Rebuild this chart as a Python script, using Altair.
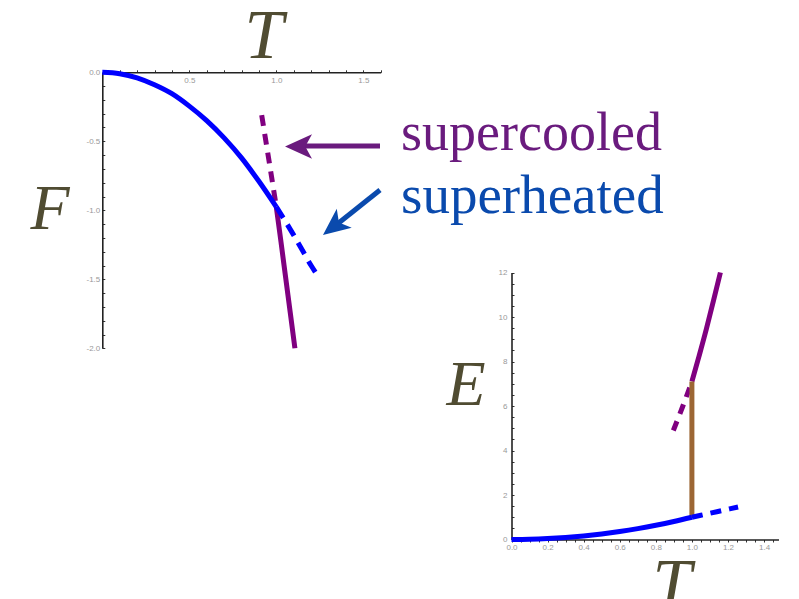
import altair as alt
import pandas as pd

# ---------------- F(T) panel data ----------------
F_blue_T = [0.0, 0.1, 0.2, 0.3, 0.4, 0.5, 0.6, 0.7, 0.8, 0.9, 1.0]
F_blue_F = [0.0, -0.01, -0.04, -0.09, -0.155, -0.245, -0.35, -0.475, -0.62, -0.79, -0.975]
F_blue_dash_T = [1.0, 1.05, 1.1, 1.15, 1.2, 1.228]
F_blue_dash_F = [-0.975, -1.075, -1.18, -1.29, -1.40, -1.455]
F_purple_T = [1.0, 1.027, 1.054, 1.08, 1.107]
F_purple_F = [-0.975, -1.23, -1.49, -1.74, -2.0]
F_purple_dash_T = [0.916, 0.958, 1.0]
F_purple_dash_F = [-0.31, -0.64, -0.975]

# ---------------- E(T) panel data ----------------
E_blue_T = [0.0, 0.1, 0.2, 0.3, 0.4, 0.5, 0.6, 0.7, 0.8, 0.9, 1.0]
E_blue_E = [0.0, 0.01, 0.04, 0.09, 0.16, 0.25, 0.36, 0.49, 0.64, 0.81, 1.0]
E_blue_dash_T = [1.0, 1.1, 1.2, 1.256]
E_blue_dash_E = [1.0, 1.18, 1.36, 1.46]
E_purple_T = [1.0, 1.04, 1.08, 1.12, 1.158]
E_purple_E = [7.1, 8.25, 9.45, 10.75, 12.0]
E_purple_dash_T = [0.897, 0.95, 1.0]
E_purple_dash_E = [4.9, 6.0, 7.1]
E_jump_T = [1.0, 1.0]
E_jump_E = [1.0, 7.1]

# tick values
FX_TICKS = [round(0.1 * i, 2) for i in range(1, 17)]
FY_TICKS = [round(-0.1 * i, 2) for i in range(0, 21)]
EX_TICKS = [round(0.05 * i, 3) for i in range(0, 30)]
EY_TICKS = [round(0.5 * i, 2) for i in range(0, 25)]

BLUE = "#0000ff"
PURPLE = "#800080"
BROWN = "#9c6634"
LABEL = "#504c32"
TXT_PURPLE = "#6a1b7e"
TXT_BLUE = "#0a4aad"

W, H = 799, 599

common_axis = dict(grid=False, title=None, domainColor="#222", domainWidth=1.6,
                   tickColor="#333", tickWidth=1, tickSize=2.5, labelColor="#999",
                   labelFontSize=8, labelFont="Liberation Sans", labelFlush=False,
                   labelOverlap=False)

axFx = alt.Axis(orient="top", offset=-72.3, values=FX_TICKS,
                labelExpr="abs(datum.value*2 - round(datum.value*2)) < 1e-6 ? format(datum.value, '.1f') : ''",
                labelBaseline="top", labelPadding=-7, **common_axis)
axFy = alt.Axis(orient="right", offset=102.3 - W, values=FY_TICKS,
                labelExpr="abs(datum.value*2 - round(datum.value*2)) < 1e-6 ? (datum.value < -1e-6 ? '-' : '') + format(abs(datum.value), '.1f') : ''",
                labelAlign="right", labelBaseline="middle", labelPadding=-5, **common_axis)
axEx = alt.Axis(orient="bottom", offset=-(H - 539.5), values=EX_TICKS,
                labelExpr="abs(datum.value*5 - round(datum.value*5)) < 1e-6 ? format(datum.value, '.1f') : ''",
                labelBaseline="top", labelPadding=1.5, **common_axis)
axEy = alt.Axis(orient="right", offset=511.5 - W, values=EY_TICKS,
                labelExpr="abs(datum.value/2 - round(datum.value/2)) < 1e-6 ? format(datum.value, 'd') : ''",
                labelAlign="right", labelBaseline="middle", labelPadding=-7, **common_axis)

fx_scale = alt.Scale(domain=[0, 1.6], range=[102.3, 102.3 + 1.6 * 174])
fy_scale = alt.Scale(domain=[-2, 0], range=[348.3, 72.3])
ex_scale = alt.Scale(domain=[0, 1.48], range=[511.5, 511.5 + 1.48 * 180.4])
ey_scale = alt.Scale(domain=[0, 12], range=[539.5, 272.5])


def series(ts, vs):
    return pd.DataFrame({"T": ts, "V": vs, "i": list(range(len(ts)))})


def mk(ts, vs, color, dash, width, smooth, xs, ys, ax, ay):
    kw = dict(color=color, strokeWidth=width, strokeCap="butt", clip=False)
    if dash:
        kw["strokeDash"] = dash
    if smooth:
        kw["interpolate"] = "monotone"
    return alt.Chart(series(ts, vs)).mark_line(**kw).encode(
        x=alt.X("T:Q", scale=xs, axis=ax),
        y=alt.Y("V:Q", scale=ys, axis=ay),
        order=alt.Order("i:Q"),
    )


def fline(ts, vs, color, dash=None, width=5, smooth=True):
    return mk(ts, vs, color, dash, width, smooth, fx_scale, fy_scale, axFx, axFy)


def eline(ts, vs, color, dash=None, width=5, smooth=True):
    return mk(ts, vs, color, dash, width, smooth, ex_scale, ey_scale, axEx, axEy)


F_panel = alt.layer(
    fline(F_purple_dash_T, F_purple_dash_F, PURPLE, [11, 8]),
    fline(F_purple_T, F_purple_F, PURPLE),
    fline(F_blue_T, F_blue_F, BLUE),
    fline(F_blue_dash_T, F_blue_dash_F, BLUE, [13, 8]),
)

E_panel = alt.layer(
    eline(E_purple_dash_T, E_purple_dash_E, PURPLE, [10, 8]),
    eline(E_purple_T, E_purple_E, PURPLE),
    eline(E_jump_T, E_jump_E, BROWN, smooth=False),
    eline(E_blue_T, E_blue_E, BLUE),
    eline(E_blue_dash_T, E_blue_dash_E, BLUE, [11, 8]),
)

one = pd.DataFrame({"a": [0]})


def label(txt, x, y, size, color, italic=True, align="center"):
    kw = dict(text=txt, font="Liberation Serif", fontSize=size, color=color,
              align=align, baseline="alphabetic")
    if italic:
        kw["fontStyle"] = "italic"
    return alt.Chart(one).mark_text(**kw).encode(x=alt.value(x), y=alt.value(y))


def shaft(x1, y1, x2, y2, color):
    return alt.Chart(one).mark_rule(color=color, strokeWidth=5, strokeCap="butt").encode(
        x=alt.value(x1), y=alt.value(y1), x2=alt.value(x2), y2=alt.value(y2))


HEAD = "M -1 0 L 1 -0.9 L 0.5 0 L 1 0.9 Z"


def head(x, y, angle, color):
    return alt.Chart(one).mark_point(shape=HEAD, filled=True, fill=color, stroke=None,
                                     size=27 * 27, opacity=1, angle=angle).encode(
        x=alt.value(x), y=alt.value(y))


annotations = [
    label("T", 264, 58, 70, LABEL),
    label("F", 50, 228.5, 64, LABEL),
    label("E", 466, 405, 64, LABEL),
    label("T", 672, 607, 70, LABEL),
    label("supercooled", 401, 150, 54, TXT_PURPLE, italic=False, align="left"),
    label("superheated", 401, 213, 55, TXT_BLUE, italic=False, align="left"),
    shaft(380, 146, 303, 146, TXT_PURPLE),
    head(298.5, 146.5, 0, TXT_PURPLE),
    shaft(380, 190, 338, 223.5, TXT_BLUE),
    head(333.6, 226.6, 322, TXT_BLUE),
]

chart = alt.layer(F_panel, E_panel, *annotations).resolve_scale(
    x="independent", y="independent"
).properties(
    width=W, height=H, padding=0,
    autosize=alt.AutoSizeParams(type="none"),
).configure_view(stroke=None)

chart.save("out.html", embed_options={"renderer": "svg", "actions": False})
